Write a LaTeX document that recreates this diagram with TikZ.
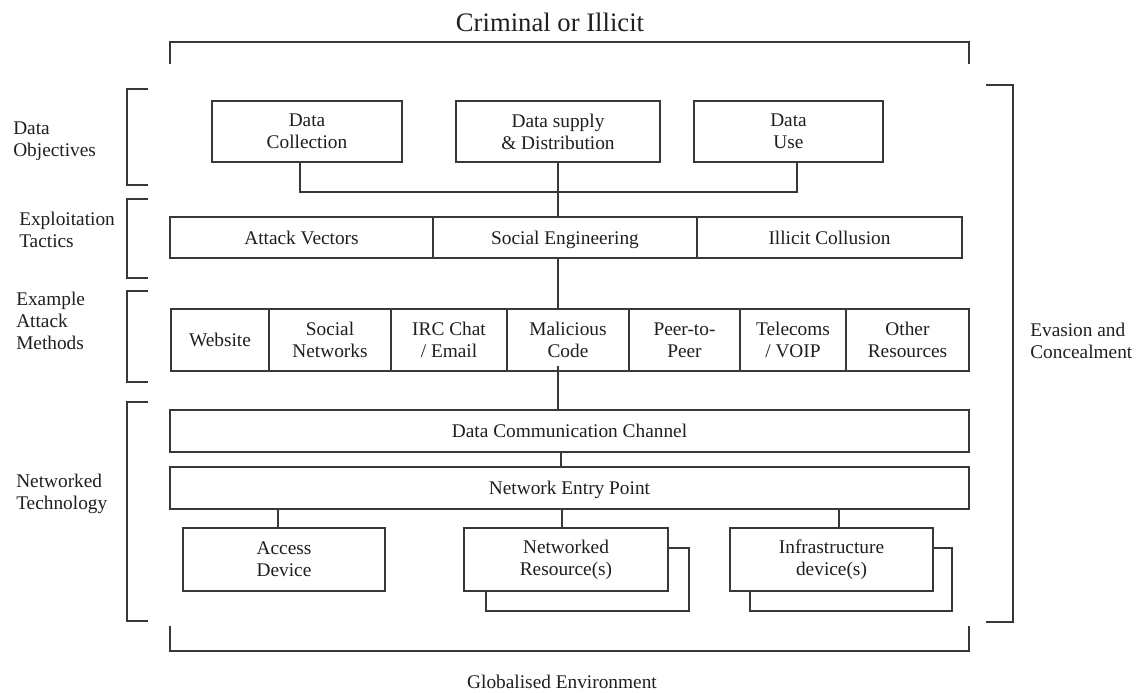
\documentclass[tikz,border=0pt]{standalone}
\usepackage{fontspec}
\setmainfont{Liberation Serif}
\begin{document}
\begin{tikzpicture}[x=0.75pt,y=-0.75pt,
  every node/.style={font=\fontsize{14.5}{16.5}\selectfont, text=black!88},
  box/.style={draw=black!78, line width=1.1pt, fill=white, inner sep=0pt, align=center},
  one/.style={text depth=0pt},
  sz/.style 2 args={minimum width={#1*0.75pt}, minimum height={#2*0.75pt}},
  ln/.style={draw=black!78, line width=1.1pt},
  lab/.style={anchor=west, align=left, inner sep=0pt}]
\useasboundingbox (0,0) rectangle (1136,693);

% title and outer brackets
\node (title) at (550,22) {\fontsize{20}{24}\selectfont Criminal or Illicit};
\draw[ln] (170,64) -- (170,42) -- (969,42) -- (969,64);
\draw[ln] (170,626) -- (170,651) -- (969,651) -- (969,626);
\node (glob) at (562,682) {Globalised Environment};
\draw[ln] (986,85) -- (1013,85) -- (1013,622) -- (986,622);
\node[lab] (eva) at (1030,341) {Evasion and\\Concealment};

% left brackets and labels
\draw[ln] (148,89) -- (127,89) -- (127,185) -- (148,185);
\draw[ln] (148,199) -- (127,199) -- (127,278) -- (148,278);
\draw[ln] (148,291) -- (127,291) -- (127,382) -- (148,382);
\draw[ln] (148,402) -- (127,402) -- (127,621) -- (148,621);
\node[lab] (l1) at (13,141) {Data\\Objectives};
\node[lab] (l2) at (19,230) {Exploitation\\Tactics};
\node[lab] (l3) at (16,321) {Example\\Attack\\Methods};
\node[lab] (l4) at (16,494) {Networked\\Technology};

% data objectives
\node[box, sz={190}{61}] (dc) at (307,131.5) {Data\\Collection};
\node[box, sz={204}{61}] (ds) at (558,131.5) {Data supply\\\& Distribution};
\node[box, sz={189}{61}] (du) at (788.5,131.5) {Data\\Use};

% tactics
\node[box, one, sz={263}{41}] (av) at (301.5,237.5) {Attack Vectors};
\node[box, one, sz={264}{41}] (se) at (565,237.5) {Social Engineering};
\node[box, one, sz={265}{41}] (ic) at (829.5,237.5) {Illicit Collusion};

% methods
\node[box, one, sz={98}{62}]  (m1) at (220,340) {Website};
\node[box, sz={122}{62}] (m2) at (330,340) {Social\\Networks};
\node[box, sz={116}{62}] (m3) at (449,340) {IRC Chat\\/ Email};
\node[box, sz={122}{62}] (m4) at (568,340) {Malicious\\Code};
\node[box, sz={111}{62}] (m5) at (684.5,340) {Peer-to-\\Peer};
\node[box, sz={106}{62}] (m6) at (793,340) {Telecoms\\/ VOIP};
\node[box, sz={123}{62}] (m7) at (907.5,340) {Other\\Resources};

% networked technology
\node[box, one, sz={799}{42}] (dcc) at (569.5,431) {Data Communication Channel};
\node[box, one, sz={799}{42}] (nep) at (569.5,488) {Network Entry Point};
\node[box, sz={202}{63}] (ad) at (284,559.5) {Access\\Device};
\node[box, sz={203}{63}] (nrs) at (587.5,579.5) {};
\node[box, sz={204}{63}] (nr) at (566,559.5) {Networked\\Resource(s)};
\node[box, sz={202}{63}] (ids) at (851,579.5) {};
\node[box, sz={203}{63}] (id) at (831.5,559.5) {Infrastructure\\device(s)};

% connectors
\coordinate (jl) at (300,192);
\coordinate (jr) at (797,192);
\draw[ln] (dc.south -| jl) -- (jl) -- (jr) -- (du.south -| jr);
\draw[ln] (ds.south) -- (se.north -| ds.south);
\draw[ln] (se.south -| ds.south) -- (m4.north -| ds.south);
\draw[ln] ([yshift=4.5pt]m4.south -| ds.south) -- (dcc.north -| ds.south);
\coordinate (c1) at (561,0);
\draw[ln] (dcc.south -| c1) -- (nep.north -| c1);
\coordinate (c2) at (278,0);
\coordinate (c3) at (562,0);
\coordinate (c4) at (839,0);
\draw[ln] (nep.south -| c2) -- (ad.north -| c2);
\draw[ln] (nep.south -| c3) -- (nr.north -| c3);
\draw[ln] (nep.south -| c4) -- (id.north -| c4);
\end{tikzpicture}
\end{document}
